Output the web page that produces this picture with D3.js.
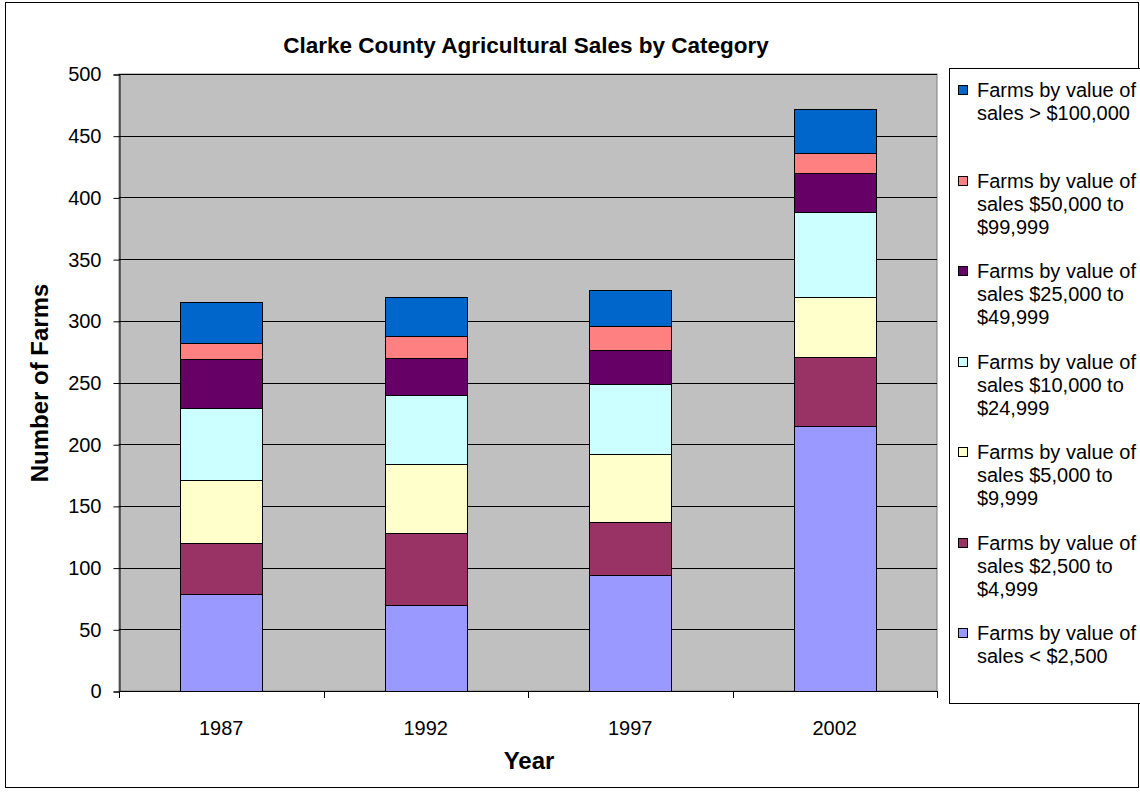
<!DOCTYPE html>
<html>
<head>
<meta charset="utf-8">
<script src="https://cdn.jsdelivr.net/npm/d3@7"></script>
<style>
  html, body { margin: 0; padding: 0; background: #fff; }
  svg { display: block; font-family: "Liberation Sans", Arial, sans-serif; }
</style>
</head>
<body>
<svg id="chart" width="1140" height="792"></svg>
<script>
const years = ["1987", "1992", "1997", "2002"];
const seriesNames = [
  "Farms by value of sales < $2,500",
  "Farms by value of sales $2,500 to $4,999",
  "Farms by value of sales $5,000 to $9,999",
  "Farms by value of sales $10,000 to $24,999",
  "Farms by value of sales $25,000 to $49,999",
  "Farms by value of sales $50,000 to $99,999",
  "Farms by value of sales > $100,000"
];
const legendLines = [
  ["Farms by value of", "sales < $2,500"],
  ["Farms by value of", "sales $2,500 to", "$4,999"],
  ["Farms by value of", "sales $5,000 to", "$9,999"],
  ["Farms by value of", "sales $10,000 to", "$24,999"],
  ["Farms by value of", "sales $25,000 to", "$49,999"],
  ["Farms by value of", "sales $50,000 to", "$99,999"],
  ["Farms by value of", "sales > $100,000"]
];
const seriesColors = ["#9999FF", "#993366", "#FFFFCC", "#CCFFFF", "#660066", "#FF8080", "#0066CC"];
const salesUnder2500   = [79, 70, 94, 215];
const sales2500to4999  = [41, 58, 43, 56];
const sales5000to9999  = [51, 56, 55, 48];
const sales10000to24999 = [58, 56, 57, 69];
const sales25000to49999 = [40, 30, 27, 32];
const sales50000to99999 = [13, 18, 20, 16];
const salesOver100000  = [33, 31, 29, 36];
const yTicks = [0, 50, 100, 150, 200, 250, 300, 350, 400, 450, 500];

const seriesValues = [salesUnder2500, sales2500to4999, sales5000to9999, sales10000to24999,
                      sales25000to49999, sales50000to99999, salesOver100000];
const keys = seriesNames;
const table = years.map((y, i) => {
  const row = { year: y };
  keys.forEach((k, j) => row[k] = seriesValues[j][i]);
  return row;
});

const svg = d3.select("#chart");
const plot = { left: 119, right: 937, top: 74, bottom: 691 };

// outer border
svg.append("rect").attr("x", 5.5).attr("y", 2.5).attr("width", 1133).attr("height", 785)
  .attr("fill", "#fff").attr("stroke", "#000").attr("stroke-width", 1);

const x = d3.scaleBand().domain(years).range([plot.left, plot.right])
  .paddingInner(0.6).paddingOuter(0.3);
const y = d3.scaleLinear().domain([0, 500]).range([plot.bottom, plot.top]);

// plot area
svg.append("rect").attr("x", plot.left).attr("y", plot.top)
  .attr("width", plot.right - plot.left).attr("height", plot.bottom - plot.top)
  .attr("fill", "#C0C0C0").attr("stroke", "#808080").attr("stroke-width", 1);

// gridlines
svg.append("g").selectAll("line").data(yTicks.filter(t => t > 0)).join("line")
  .attr("x1", plot.left).attr("x2", plot.right)
  .attr("y1", d => Math.round(y(d)) + 0.5).attr("y2", d => Math.round(y(d)) + 0.5)
  .attr("stroke", "#000").attr("stroke-width", 1);

// stacked bars
const stack = d3.stack().keys(keys)(table);
svg.append("g").selectAll("g").data(stack).join("g")
  .attr("fill", (d, i) => seriesColors[i])
  .selectAll("rect").data(d => d).join("rect")
  .attr("x", d => Math.round(x(d.data.year)) + 0.5)
  .attr("width", Math.round(x.bandwidth()))
  .attr("y", d => Math.round(y(d[1])) + 0.5)
  .attr("height", d => Math.round(y(d[0])) - Math.round(y(d[1])))
  .attr("stroke", "#000").attr("stroke-width", 1);

// y axis
const yAxis = d3.axisLeft(y).tickValues(yTicks).tickSize(6).tickPadding(12).tickFormat(d3.format("d"));
const gy = svg.append("g").attr("transform", `translate(${plot.left + 0.5},0.5)`).call(yAxis);
gy.select(".domain").attr("stroke", "#000");
gy.selectAll(".tick line").attr("stroke", "#000");
gy.selectAll(".tick text").attr("font-size", 20).attr("fill", "#000")
  .attr("font-family", "Liberation Sans, Arial, sans-serif");

// x axis: ticks at category boundaries
const step = x.step();
const boundaries = years.map(yr => x(yr) - step * x.paddingOuter()).concat([plot.right]);
const gx = svg.append("g");
gx.append("line").attr("x1", plot.left).attr("x2", plot.right)
  .attr("y1", plot.bottom + 0.5).attr("y2", plot.bottom + 0.5).attr("stroke", "#000");
gx.selectAll("line.tk").data(boundaries).join("line").attr("class", "tk")
  .attr("x1", d => Math.round(d) + 0.5).attr("x2", d => Math.round(d) + 0.5)
  .attr("y1", plot.bottom).attr("y2", plot.bottom + 7).attr("stroke", "#000");
gx.selectAll("text").data(years).join("text")
  .attr("x", d => x(d) + x.bandwidth() / 2).attr("y", 728)
  .attr("text-anchor", "middle").attr("dominant-baseline", "central")
  .attr("font-size", 20).text(d => d);

// titles
svg.append("text").attr("x", 526).attr("y", 45).attr("text-anchor", "middle")
  .attr("dominant-baseline", "central").attr("font-size", 22.5).attr("font-weight", "bold")
  .text("Clarke County Agricultural Sales by Category");
svg.append("text").attr("x", 529).attr("y", 760).attr("text-anchor", "middle")
  .attr("dominant-baseline", "central").attr("font-size", 24).attr("font-weight", "bold")
  .text("Year");
svg.append("text").attr("transform", "translate(39,383) rotate(-90)").attr("text-anchor", "middle")
  .attr("dominant-baseline", "central").attr("font-size", 24).attr("font-weight", "bold")
  .text("Number of Farms");

// legend
const lg = svg.append("g");
lg.append("rect").attr("x", 949.5).attr("y", 68.5).attr("width", 192).attr("height", 635)
  .attr("fill", "#fff").attr("stroke", "#000").attr("stroke-width", 1);
const order = d3.range(seriesNames.length).reverse();
order.forEach((si, idx) => {
  const cy = 90 + idx * 90.5;
  lg.append("rect").attr("x", 958.5).attr("y", Math.round(cy - 5) + 0.5).attr("width", 9).attr("height", 9)
    .attr("fill", seriesColors[si]).attr("stroke", "#000");
  legendLines[si].forEach((ln, li) => {
    lg.append("text").attr("x", 977).attr("y", cy + li * 23)
      .attr("dominant-baseline", "central").attr("font-size", 20).text(ln);
  });
});
</script>
</body>
</html>
